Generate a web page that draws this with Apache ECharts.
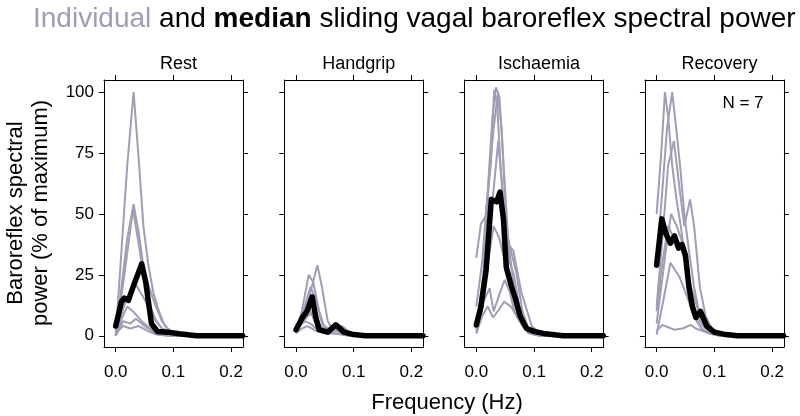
<!DOCTYPE html>
<html>
<head>
<meta charset="utf-8">
<script src="https://cdn.jsdelivr.net/npm/echarts@6/dist/echarts.min.js"></script>
<style>
  html, body { margin: 0; padding: 0; background: #fff; }
  #main { width: 800px; height: 416px; }
</style>
</head>
<body>
<div id="main"></div>
<script>
// panel names
const panels = ['Rest', 'Handgrip', 'Ischaemia', 'Recovery'];
const xTicks = [0, 0.1, 0.2];
const yTicks = [0, 25, 50, 75, 100];

// individual curves, [frequency (Hz), % of maximum]
const restIndividual = [
  [[0,0],[0.01,35],[0.02,70],[0.031,100],[0.04,72],[0.048,45],[0.056,30],[0.065,18],[0.075,10],[0.085,4],[0.1,1],[0.12,0],[0.22,0]],
  [[0,1],[0.01,20],[0.02,40],[0.031,54],[0.04,42],[0.05,25],[0.06,12],[0.07,6],[0.08,3],[0.1,1],[0.12,0],[0.22,0]],
  [[0,0],[0.015,25],[0.03,52],[0.045,30],[0.058,20],[0.068,13],[0.08,6],[0.09,3],[0.1,1],[0.12,0],[0.22,0]],
  [[0,0],[0.012,8],[0.02,12],[0.03,10],[0.045,6],[0.06,3],[0.08,1],[0.1,0],[0.22,0]],
  [[0,0],[0.013,6],[0.025,5],[0.035,7],[0.05,4],[0.07,1],[0.09,0],[0.22,0]],
  [[0,1],[0.013,4],[0.025,3],[0.04,4],[0.055,2],[0.07,0.5],[0.09,0],[0.22,0]],
  [[0,0],[0.01,9],[0.02,16],[0.035,21],[0.05,15],[0.065,8],[0.08,3],[0.1,0],[0.22,0]]
];
const restMedian = [[0,4],[0.01,14],[0.015,15.5],[0.022,14.5],[0.03,20],[0.045,29.5],[0.052,22],[0.062,5],[0.072,1.8],[0.09,1.5],[0.11,0.8],[0.14,0],[0.22,0]];

const handgripIndividual = [
  [[0,1],[0.012,8],[0.025,18],[0.037,29],[0.045,20],[0.055,6],[0.065,2],[0.08,4],[0.09,2],[0.1,0.5],[0.12,0],[0.22,0]],
  [[0,2],[0.01,10],[0.022,25],[0.03,22],[0.04,10],[0.05,3],[0.07,2],[0.085,1],[0.1,0],[0.22,0]],
  [[0,1],[0.015,12],[0.025,20],[0.035,15],[0.045,5],[0.06,2],[0.075,3],[0.09,1],[0.11,0],[0.22,0]],
  [[0,2],[0.01,5],[0.02,8],[0.03,10],[0.04,5],[0.05,2],[0.065,3],[0.08,1],[0.1,0],[0.22,0]],
  [[0,3],[0.015,6],[0.025,5],[0.035,3],[0.05,1],[0.07,5],[0.08,3],[0.1,0],[0.22,0]],
  [[0,1],[0.01,3],[0.02,4],[0.035,2],[0.05,1],[0.07,1],[0.09,0],[0.22,0]],
  [[0,2],[0.012,6],[0.022,12],[0.032,6],[0.045,2],[0.06,1],[0.08,0.5],[0.1,0],[0.22,0]]
];
const handgripMedian = [[0,2.5],[0.011,7.5],[0.019,10],[0.028,16],[0.034,8],[0.04,2.5],[0.055,1.5],[0.069,4.5],[0.083,1.5],[0.1,0.5],[0.12,0],[0.22,0]];

const ischaemiaIndividual = [
  [[0,32],[0.008,46],[0.016,49],[0.025,70],[0.031,101],[0.036,95],[0.042,70],[0.05,45],[0.06,35],[0.07,25],[0.08,10],[0.09,3],[0.11,0],[0.22,0]],
  [[0,12],[0.01,30],[0.02,60],[0.028,90],[0.034,102],[0.04,98],[0.046,75],[0.055,40],[0.065,20],[0.075,8],[0.09,2],[0.11,0],[0.22,0]],
  [[0,2],[0.012,25],[0.022,65],[0.03,85],[0.037,99],[0.044,85],[0.05,55],[0.058,30],[0.065,25],[0.075,12],[0.09,3],[0.1,1],[0.12,0],[0.22,0]],
  [[0,3],[0.012,14],[0.023,19.5],[0.03,10],[0.04,17],[0.049,23],[0.058,18],[0.066,10],[0.078,5],[0.09,2],[0.1,0.5],[0.22,0]],
  [[0,1],[0.01,8],[0.02,12],[0.029,7.5],[0.04,11],[0.048,14],[0.06,12],[0.07,8],[0.08,4],[0.095,1],[0.11,0],[0.22,0]],
  [[0,5],[0.01,20],[0.02,40],[0.03,60],[0.038,80],[0.045,60],[0.052,38],[0.064,35],[0.078,18],[0.096,4],[0.11,1],[0.13,0],[0.22,0]],
  [[0,1],[0.01,10],[0.02,30],[0.03,45],[0.04,40],[0.05,30],[0.06,20],[0.07,10],[0.08,5],[0.09,1],[0.11,0],[0.22,0]]
];
const ischaemiaMedian = [[0,4.5],[0.008,12],[0.017,27],[0.026,56],[0.035,55],[0.041,59],[0.047,48],[0.052,28],[0.06,21],[0.068,15],[0.076,8],[0.087,3],[0.1,1.8],[0.12,0.8],[0.15,0],[0.22,0]];

const recoveryIndividual = [
  [[0,50],[0.008,75],[0.0144,100],[0.02,90],[0.027,70],[0.035,55],[0.042,45],[0.05,30],[0.06,15],[0.07,6],[0.08,2],[0.1,0.5],[0.12,0],[0.22,0]],
  [[0,30],[0.01,60],[0.018,85],[0.027,100],[0.034,85],[0.041,69],[0.048,50],[0.056,35],[0.065,20],[0.075,8],[0.09,2],[0.11,0],[0.22,0]],
  [[0,12],[0.01,40],[0.02,70],[0.03,80],[0.04,60],[0.048,45],[0.058,56],[0.065,45],[0.075,20],[0.085,8],[0.1,1],[0.12,0],[0.22,0]],
  [[0,0.5],[0.012,15],[0.024,30],[0.032,27],[0.04,24],[0.053,16],[0.065,8],[0.078,3],[0.09,1],[0.11,0],[0.22,0]],
  [[0,2],[0.01,4.5],[0.02,3.5],[0.03,2.5],[0.045,3],[0.059,4.5],[0.068,3],[0.076,2.3],[0.09,1],[0.11,0],[0.22,0]],
  [[0,10],[0.01,30],[0.02,45],[0.03,40],[0.04,38],[0.05,30],[0.06,20],[0.07,12],[0.08,5],[0.09,2],[0.11,0],[0.22,0]],
  [[0,5],[0.008,20],[0.016,35],[0.025,50],[0.035,45],[0.045,38],[0.055,25],[0.062,15],[0.07,8],[0.08,4],[0.095,1],[0.12,0],[0.22,0]]
];
const recoveryMedian = [[0,29],[0.009,48],[0.016,42],[0.024,38],[0.031,41],[0.038,36],[0.044,37.5],[0.05,33],[0.056,20],[0.062,12],[0.068,7.5],[0.076,10],[0.087,4],[0.1,1.5],[0.12,0.5],[0.14,0],[0.22,0]];

const individuals = [restIndividual, handgripIndividual, ischaemiaIndividual, recoveryIndividual];
const medians = [restMedian, handgripMedian, ischaemiaMedian, recoveryMedian];

const FONT = 'Liberation Sans, Arial, sans-serif';
const GREY = '#9e9eb5';
const panelLeft = 104, panelStep = 180.3, panelWidth = 139, panelTop = 80, panelHeight = 267;

var grids = [], xAxes = [], yAxes = [], series = [], titles = [];

titles.push({
  left: 28, top: 0,
  text: '{g|Individual} and {b|median} sliding vagal baroreflex spectral power',
  textStyle: {
    fontFamily: FONT, fontSize: 28, fontWeight: 'normal', color: '#000',
    rich: {
      g: { color: GREY, fontFamily: FONT, fontSize: 28 },
      b: { fontWeight: 'bold', fontFamily: FONT, fontSize: 28, color: '#000' }
    }
  }
});

panels.forEach(function (name, i) {
  var left = panelLeft + i * panelStep;
  grids.push({ left: left, top: panelTop, width: panelWidth, height: panelHeight });

  titles.push({
    text: name, left: left + panelWidth / 2, top: 50, textAlign: 'center',
    textStyle: { fontFamily: FONT, fontSize: 18, fontWeight: 'normal', color: '#000' }
  });

  var tick = { show: true, inside: false, length: 5, lineStyle: { color: '#000', width: 1 }, customValues: xTicks };
  var line = { show: true, onZero: false, lineStyle: { color: '#000', width: 1 } };
  // bottom and top x axes
  xAxes.push({
    type: 'value', gridIndex: i, position: 'bottom', min: -0.0203, max: 0.2206,
    axisLine: line, axisTick: tick, splitLine: { show: false },
    axisLabel: {
      customValues: xTicks, margin: 17, color: '#000', fontFamily: FONT, fontSize: 17,
      formatter: function (v) { return v.toFixed(1); }
    }
  });
  xAxes.push({
    type: 'value', gridIndex: i, position: 'top', min: -0.0203, max: 0.2206,
    axisLine: line, axisTick: tick, splitLine: { show: false }, axisLabel: { show: false }
  });

  var ytick = { show: true, inside: false, length: 5, lineStyle: { color: '#000', width: 1 }, customValues: yTicks };
  yAxes.push({
    type: 'value', gridIndex: i, position: 'left', min: -4.6, max: 105,
    axisLine: line, axisTick: ytick, splitLine: { show: false },
    axisLabel: {
      show: i === 0, customValues: yTicks, margin: 10, color: '#000', fontFamily: FONT, fontSize: 17
    }
  });
  yAxes.push({
    type: 'value', gridIndex: i, position: 'right', min: -4.6, max: 105,
    axisLine: line, axisTick: ytick, splitLine: { show: false }, axisLabel: { show: false }
  });

  individuals[i].forEach(function (d) {
    series.push({
      type: 'line', xAxisIndex: 2 * i, yAxisIndex: 2 * i, data: d,
      symbol: 'none', silent: true, z: 2,
      lineStyle: { color: GREY, width: 2 }
    });
  });
  series.push({
    type: 'line', xAxisIndex: 2 * i, yAxisIndex: 2 * i, data: medians[i],
    symbol: 'none', silent: true, z: 3,
    lineStyle: { color: '#000', width: 5.5, join: 'round', cap: 'round' }
  });
});

var myChart = echarts.init(document.getElementById('main'), null, { renderer: 'canvas' });
myChart.setOption({
  animation: false,
  title: titles,
  grid: grids,
  xAxis: xAxes,
  yAxis: yAxes,
  series: series,
  graphic: [
    {
      type: 'text', x: 28, y: 213, rotation: Math.PI / 2,
      style: {
        text: 'Baroreflex spectral\npower (% of maximum)', align: 'center', verticalAlign: 'middle',
        fontFamily: FONT, fontSize: 22, lineHeight: 25, fill: '#000'
      }
    },
    {
      type: 'text', x: 447, y: 403,
      style: {
        text: 'Frequency (Hz)', align: 'center', verticalAlign: 'middle',
        fontFamily: FONT, fontSize: 22, fill: '#000'
      }
    },
    {
      type: 'text', x: 743, y: 103,
      style: {
        text: 'N = 7', align: 'center', verticalAlign: 'middle',
        fontFamily: FONT, fontSize: 17, fill: '#000'
      }
    }
  ]
});
</script>
</body>
</html>
